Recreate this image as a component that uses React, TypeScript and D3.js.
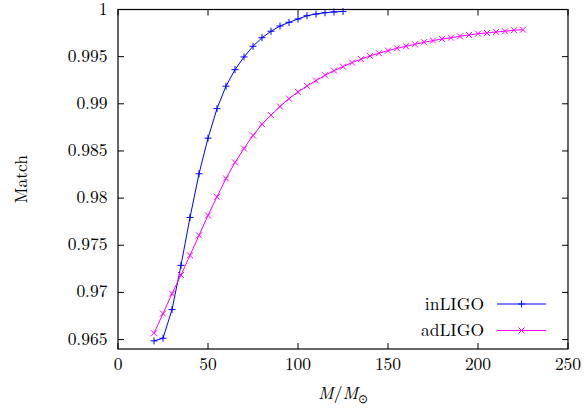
import React from "react";
import * as d3 from "d3";

const inX = [20, 25, 30, 35, 40, 45, 50, 55, 60, 65, 70, 75, 80, 85, 90, 95, 100, 105, 110, 115, 120, 125];
const inY = [0.96486, 0.96514, 0.96818, 0.97287, 0.97795, 0.98258, 0.98636, 0.98949, 0.99187, 0.99362, 0.99497, 0.9961, 0.99701, 0.99769, 0.99825, 0.99864, 0.99899, 0.99934, 0.99952, 0.99966, 0.99974, 0.99979];

const adX = [20, 25, 30, 35, 40, 45, 50, 55, 60, 65, 70, 75, 80, 85, 90, 95, 100, 105, 110, 115, 120, 125, 130, 135, 140, 145, 150, 155, 160, 165, 170, 175, 180, 185, 190, 195, 200, 205, 210, 215, 220, 225];
const adY = [0.96567, 0.96775, 0.96987, 0.97185, 0.97393, 0.97605, 0.97816, 0.98014, 0.98208, 0.98378, 0.98526, 0.98664, 0.98784, 0.9888, 0.98971, 0.99055, 0.99126, 0.9919, 0.99246, 0.99303, 0.99352, 0.99394, 0.99437, 0.99473, 0.99508, 0.99536, 0.99564, 0.99589, 0.9961, 0.99631, 0.99653, 0.9967, 0.99688, 0.99701, 0.99716, 0.9973, 0.99744, 0.99751, 0.99762, 0.99769, 0.9978, 0.99786];

const xTicks = [0, 50, 100, 150, 200, 250];
const yTicks = [0.965, 0.97, 0.975, 0.98, 0.985, 0.99, 0.995, 1];
const yTickLabels = ["0.965", "0.97", "0.975", "0.98", "0.985", "0.99", "0.995", "1"];
const seriesNames = ["inLIGO", "adLIGO"];

const W = 584, H = 409;
const L = 118, R = 568, T = 9.5, B = 349;
const FS = { fontFamily: '"Latin Modern Roman", "Liberation Serif", serif' };

export default function App() {
  const x = d3.scaleLinear().domain([0, 250]).range([L, R]);
  const y = d3.scaleLinear().domain([0.964, 1]).range([B, T]);
  const line = d3.line<[number, number]>().x(d => x(d[0])).y(d => y(d[1]));
  const inPts: [number, number][] = inX.map((v, i) => [v, inY[i]]);
  const adPts: [number, number][] = adX.map((v, i) => [v, adY[i]]);
  const blue = "#0000ff";
  const mag = "#ff00ff";
  const tl = 6;
  const plus = (cx: number, cy: number, k: string) => (
    <path key={k} d={`M${cx - 3.5},${cy}H${cx + 3.5}M${cx},${cy - 3.5}V${cy + 3.5}`} stroke={blue} strokeWidth={1} fill="none" />
  );
  const cross = (cx: number, cy: number, k: string) => (
    <path key={k} d={`M${cx - 3},${cy - 3}L${cx + 3},${cy + 3}M${cx - 3},${cy + 3}L${cx + 3},${cy - 3}`} stroke={mag} strokeWidth={1} fill="none" />
  );
  const legY1 = 304, legY2 = 330.5;
  return (
    <svg width={W} height={H} style={{ position: "fixed", left: 0, top: 0, background: "#fff" }}>
      <rect x={0} y={0} width={W} height={H} fill="#fff" />
      {xTicks.map(t => (
        <g key={"xt" + t}>
          <line x1={x(t)} x2={x(t)} y1={B} y2={B - tl} stroke="#000" />
          <line x1={x(t)} x2={x(t)} y1={T} y2={T + tl} stroke="#000" />
          <text x={x(t)} y={369.5} fontSize={17.5} textAnchor="middle" style={FS}>{t}</text>
        </g>
      ))}
      {yTicks.map((t, i) => (
        <g key={"yt" + t}>
          <line x1={L} x2={L + tl} y1={y(t)} y2={y(t)} stroke="#000" />
          <line x1={R} x2={R - tl} y1={y(t)} y2={y(t)} stroke="#000" />
          <text x={L - 10.5} y={y(t) + 5} fontSize={17.5} textAnchor="end" style={FS}>{yTickLabels[i]}</text>
        </g>
      ))}
      <path d={line(inPts) || ""} stroke={blue} strokeWidth={1} fill="none" />
      {inPts.map((p, i) => plus(x(p[0]), y(p[1]), "ip" + i))}
      <path d={line(adPts) || ""} stroke={mag} strokeWidth={1} fill="none" />
      {adPts.map((p, i) => cross(x(p[0]), y(p[1]), "ap" + i))}
      <text x={484} y={legY1 + 5.5} fontSize={17.5} textAnchor="end" style={FS}>{seriesNames[0]}</text>
      <line x1={497} x2={546} y1={legY1} y2={legY1} stroke={blue} />
      {plus(521.5, legY1, "lp")}
      <text x={484} y={legY2 + 5.5} fontSize={17.5} textAnchor="end" style={FS}>{seriesNames[1]}</text>
      <line x1={497} x2={546} y1={legY2} y2={legY2} stroke={mag} />
      {cross(521.5, legY2, "lc")}
      <rect x={L} y={T} width={R - L} height={B - T} fill="none" stroke="#000" strokeWidth={1.2} />
      <text x={343} y={399} fontSize={17.5} textAnchor="middle" style={FS}>
        <tspan fontStyle="italic">M</tspan>
        <tspan>/</tspan>
        <tspan fontStyle="italic">M</tspan>
        <tspan fontSize={12} dy={4}>⊙</tspan>
      </text>
      <text transform={`translate(27,${(T + B) / 2}) rotate(-90)`} fontSize={17.5} textAnchor="middle" style={FS}>Match</text>
    </svg>
  );
}
